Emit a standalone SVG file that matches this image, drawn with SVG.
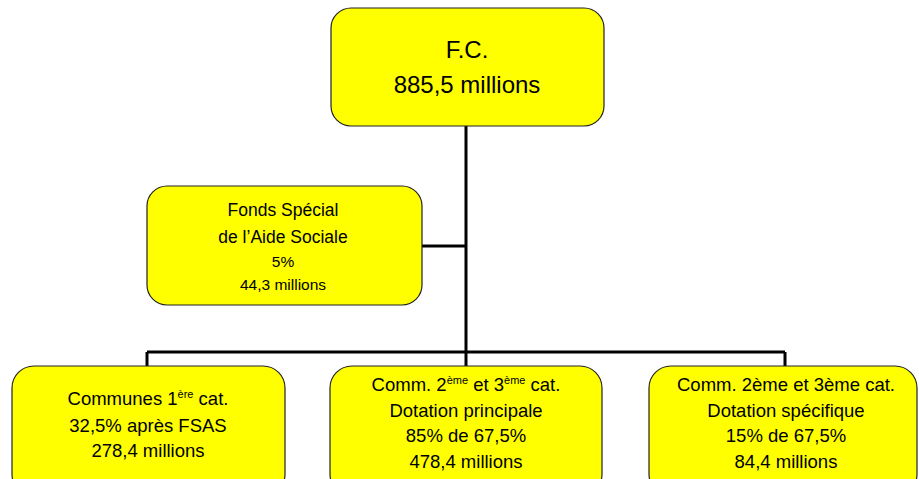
<svg xmlns="http://www.w3.org/2000/svg" width="919" height="479" viewBox="0 0 919 479">
<style>
.box{fill:#ffff00;stroke:#222;stroke-width:1.2}
.t{font-family:"Liberation Sans",Arial,sans-serif;fill:#000;text-anchor:middle}
.big{font-size:24px}
.m{font-size:17.5px}
.s{font-size:15.5px}
.b{font-size:18.5px}
.sup{font-size:11px}
.conn{stroke:#000;stroke-width:3;fill:none}
</style>
<rect width="919" height="479" fill="#fff"/>
<g id="connectors">
<path class="conn" d="M466,126 V352 M422,246 H466 M147,352 H785 M147,352 V366 M466,352 V366 M785,352 V366"/>
</g>
<g id="fc">
<rect class="box" x="331" y="8" width="273" height="118" rx="20"/>
<text class="t big" x="467" y="58">F.C.</text>
<text class="t big" x="467" y="93">885,5 millions</text>
</g>
<g id="fsas">
<rect class="box" x="147" y="186" width="275" height="119" rx="20"/>
<text class="t m" x="283" y="216">Fonds Spécial</text>
<text class="t m" x="283" y="243">de l’Aide Sociale</text>
<text class="t s" x="283" y="267">5%</text>
<text class="t s" x="283" y="290">44,3 millions</text>
</g>
<g id="communes1">
<rect class="box" x="12" y="366" width="273" height="130" rx="22"/>
<text class="t b" x="148" y="405">Communes 1<tspan class="sup" dy="-7">ère</tspan><tspan dy="7"> cat.</tspan></text>
<text class="t b" x="148" y="432">32,5% après FSAS</text>
<text class="t b" x="148" y="457">278,4 millions</text>
</g>
<g id="dotation-principale">
<rect class="box" x="330" y="366" width="272" height="130" rx="22"/>
<text class="t b" x="466" y="391">Comm. 2<tspan class="sup" dy="-7">ème</tspan><tspan dy="7"> et 3</tspan><tspan class="sup" dy="-7">ème</tspan><tspan dy="7"> cat.</tspan></text>
<text class="t b" x="466" y="417">Dotation principale</text>
<text class="t b" x="466" y="442">85% de 67,5%</text>
<text class="t b" x="466" y="468">478,4 millions</text>
</g>
<g id="dotation-specifique">
<rect class="box" x="649" y="366" width="268" height="130" rx="22"/>
<text class="t b" x="786" y="391">Comm. 2ème et 3ème cat.</text>
<text class="t b" x="786" y="417">Dotation spécifique</text>
<text class="t b" x="786" y="442">15% de 67,5%</text>
<text class="t b" x="786" y="468">84,4 millions</text>
</g>
</svg>
